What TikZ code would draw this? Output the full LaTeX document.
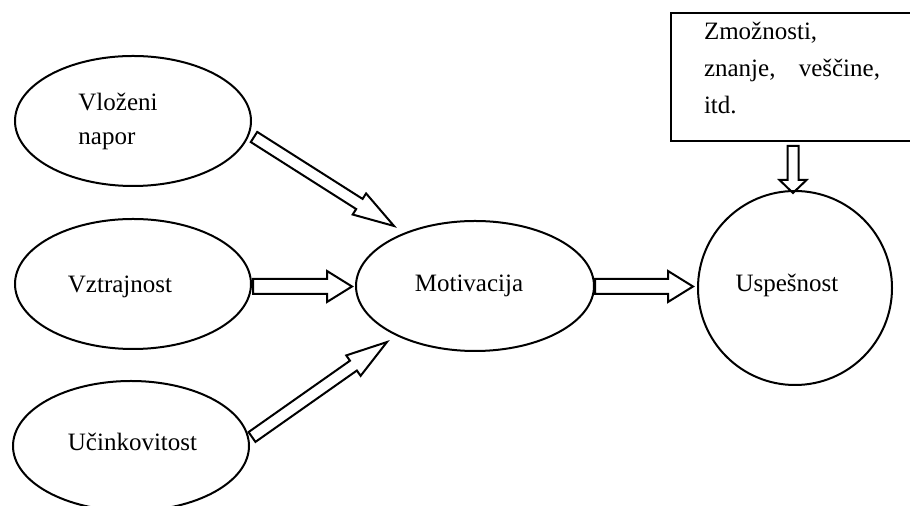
\documentclass[tikz,border=0pt]{standalone}
\usepackage{fontspec}
\setmainfont{Liberation Serif}
\usetikzlibrary{shapes.geometric,calc}

\tikzset{
  oval/.style={draw, ellipse, line width=1pt, minimum width=118pt, minimum height=65pt, inner sep=0pt},
  blockline/.style={draw, line width=1pt, line join=miter},
}

% hollow block arrow: from, to, shaft half width, head half width, head length
\newcommand{\hollowarrow}[5]{%
  \path let \p1=($(#2)-(#1)$) in \pgfextra{%
    \pgfmathsetmacro\arrang{atan2(\y1,\x1)}%
    \pgfmathsetmacro\arrlen{veclen(\x1,\y1)}%
    \xdef\arrowangle{\arrang}\xdef\arrowlength{\arrlen}};
  \draw[blockline, shift={(#1)}, rotate=\arrowangle]
    (0pt,-#3) -- ({\arrowlength pt-#5},-#3) -- ({\arrowlength pt-#5},-#4)
    -- (\arrowlength pt,0pt) -- ({\arrowlength pt-#5},#4) -- ({\arrowlength pt-#5},#3)
    -- (0pt,#3) -- cycle;}

\begin{document}
\begin{tikzpicture}[x=0.5pt, y=-0.5pt, font=\fontsize{12.5}{17}\selectfont]
    \useasboundingbox (0,0) rectangle (910,506);
    \clip (0,0) rectangle (910,506);

    % Factors
    \node[oval, label={[xshift=-7.5pt, align=left]center:{Vloženi\\napor}}] (effort) at (133,121) {};
    \node[oval, label={[xshift=-6.5pt, yshift=-1.5pt]center:Vztrajnost}] (persist) at (133,284) {};
    \node[oval, label={[xshift=0.75pt, yshift=2pt]center:Učinkovitost}] (effic) at (131,446) {};

    % Motivation and performance
    \node[oval, minimum width=119pt, label={[xshift=-3pt]center:Motivacija}] (motiv) at (475,286) {};
    \node[draw, circle, line width=1pt, minimum size=97pt, inner sep=0pt,
          label={[xshift=-4pt, yshift=1.5pt]center:Uspešnost}] (success) at (795,288) {};

    % Abilities
    \node[draw, line width=1pt, anchor=north west, text width=88pt, inner xsep=16.5pt,
          minimum height=64pt, text depth=46pt, align=left, font=\fontsize{12.5}{18.5}\selectfont]
          (skills) at (670,12) {Zmožnosti,\\ znanje,\hfill veščine,\\ itd.};

    % Arrow ends
    \coordinate (effort-out) at (254,137);
    \coordinate (motiv-in-a) at (394,226);
    \coordinate (persist-out) at (253,286.5);
    \coordinate (motiv-in-b) at (352,286.5);
    \coordinate (effic-out) at (252,437);
    \coordinate (motiv-in-c) at (387,342);
    \coordinate (motiv-out) at (595,286.5);
    \coordinate (success-in) at (693,286.5);
    \coordinate (skills-out) at (793,146);
    \coordinate (success-top) at (793,193);

    % Block arrows
    \hollowarrow{effort-out}{motiv-in-a}{3pt}{6.25pt}{20.5pt}
    \hollowarrow{persist-out}{motiv-in-b}{3.75pt}{7.75pt}{12.5pt}
    \hollowarrow{effic-out}{motiv-in-c}{3pt}{6.25pt}{20.5pt}
    \hollowarrow{motiv-out}{success-in}{3.75pt}{7.75pt}{12.5pt}
    \hollowarrow{skills-out}{success-top}{2.75pt}{6.75pt}{6.5pt}
\end{tikzpicture}
\end{document}
